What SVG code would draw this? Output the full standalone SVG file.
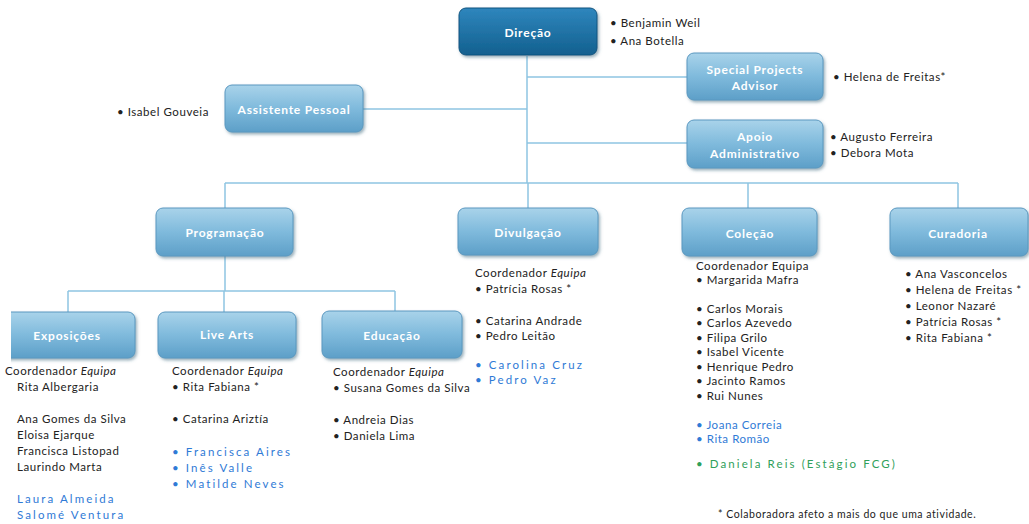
<svg xmlns="http://www.w3.org/2000/svg" width="1029" height="524" viewBox="0 0 1029 524">
<defs>
<linearGradient id="lb" x1="0" y1="0" x2="0" y2="1">
<stop offset="0" stop-color="#a9d3ea"/>
<stop offset="0.5" stop-color="#7fbadc"/>
<stop offset="1" stop-color="#5d9fc8"/>
</linearGradient>
<linearGradient id="db" x1="0" y1="0" x2="0" y2="1">
<stop offset="0" stop-color="#2f86bd"/>
<stop offset="1" stop-color="#12608f"/>
</linearGradient>
<filter id="sh" x="-10%" y="-20%" width="125%" height="150%">
<feDropShadow dx="1.5" dy="2" stdDeviation="1.5" flood-color="#4a6f86" flood-opacity="0.55"/>
</filter>
<clipPath id="cl"><rect x="11" y="0" width="1018" height="524"/></clipPath>
</defs>
<style>
.box{fill:url(#lb);stroke:#5a98c0;stroke-width:1;filter:url(#sh)}
.dbox{fill:url(#db);stroke:#0f5580;stroke-width:1;filter:url(#sh)}
.bt{font-family:Lato,"Liberation Sans",sans-serif;font-weight:bold;font-size:12px;fill:#ffffff;text-anchor:middle;letter-spacing:0.8px}
.t{font-family:Lato,"Liberation Sans",sans-serif;font-size:11.5px;fill:#222222;letter-spacing:0.55px}
.it{font-style:italic}
.bl{font-family:Lato,"Liberation Sans",sans-serif;font-size:11.5px;fill:#2f7ad6;letter-spacing:2.1px}
.gr{font-family:Lato,"Liberation Sans",sans-serif;font-size:11.5px;fill:#2fa05a;letter-spacing:2.1px}
.c{stroke:#8ec5e2;stroke-width:1.5;fill:none}
</style>
<g id="connectors">
<path class="c" d="M527 56V183M527 77H687M527 143H687M363 109H527M225 183H958M225 183V208M528 183V208M748 183V208M958 183V208M225 256V291M68 291H395M68 291V312M224 291V312M395 291V311"/>
</g>
<g id="direcao">
<rect class="dbox" x="459" y="8" width="138" height="47" rx="7"/>
<text class="bt" x="528" y="37">Direção</text>
<text class="t" x="610" y="27">•  Benjamin Weil</text>
<text class="t" x="610" y="45">•  Ana Botella</text>
</g>
<g id="special">
<rect class="box" x="687" y="53" width="136" height="47" rx="7"/>
<text class="bt" x="755" y="74">Special Projects</text>
<text class="bt" x="755" y="90">Advisor</text>
<text class="t" x="833" y="81">•  Helena de Freitas*</text>
</g>
<g id="apoio">
<rect class="box" x="687" y="120" width="136" height="48" rx="7"/>
<text class="bt" x="755" y="141">Apoio</text>
<text class="bt" x="755" y="158">Administrativo</text>
<text class="t" x="830" y="141">•  Augusto Ferreira</text>
<text class="t" x="830" y="157">•  Debora Mota</text>
</g>
<g id="assistente">
<rect class="box" x="225" y="85" width="138" height="47" rx="7"/>
<text class="bt" x="294" y="114">Assistente Pessoal</text>
<text class="t" x="117" y="116">•  Isabel Gouveia</text>
</g>
<g id="programacao">
<rect class="box" x="156" y="208" width="137" height="48" rx="7"/>
<text class="bt" x="225" y="237">Programação</text>
</g>
<g id="divulgacao">
<rect class="box" x="458" y="208" width="140" height="47" rx="7"/>
<text class="bt" x="528" y="237">Divulgação</text>
<text class="t" x="475" y="277">Coordenador <tspan class="it">Equipa</tspan></text>
<text class="t" x="475" y="293">•  Patrícia Rosas *</text>
<text class="t" x="475" y="325">•  Catarina Andrade</text>
<text class="t" x="475" y="340">•  Pedro Leitão</text>
<text class="bl" x="475" y="369">• Carolina Cruz</text>
<text class="bl" x="475" y="384">• Pedro Vaz</text>
</g>
<g id="colecao">
<rect class="box" x="682" y="208" width="135" height="48" rx="7"/>
<text class="bt" x="750" y="238">Coleção</text>
<text class="t" x="696" y="270">Coordenador Equipa</text>
<text class="t" x="696" y="284">•  Margarida Mafra</text>
<text class="t" x="696" y="313">•  Carlos Morais</text>
<text class="t" x="696" y="327">•  Carlos Azevedo</text>
<text class="t" x="696" y="342">•  Filipa Grilo</text>
<text class="t" x="696" y="356">•  Isabel Vicente</text>
<text class="t" x="696" y="371">•  Henrique Pedro</text>
<text class="t" x="696" y="385">•  Jacinto Ramos</text>
<text class="t" x="696" y="400">•  Rui Nunes</text>
<text class="t" x="696" y="429" style="fill:#2f7ad6">•  Joana Correia</text>
<text class="t" x="696" y="443" style="fill:#2f7ad6">•  Rita Romão</text>
<text class="gr" x="696" y="468">• Daniela Reis (Estágio FCG)</text>
</g>
<g id="curadoria">
<rect class="box" x="890" y="208" width="138" height="48" rx="7"/>
<text class="bt" x="958" y="238">Curadoria</text>
<text class="t" x="905" y="278">•  Ana Vasconcelos</text>
<text class="t" x="905" y="294">•  Helena de Freitas *</text>
<text class="t" x="905" y="310">•  Leonor Nazaré</text>
<text class="t" x="905" y="326">•  Patrícia Rosas *</text>
<text class="t" x="905" y="342">•  Rita Fabiana *</text>
</g>
<g id="exposicoes">
<rect class="box" x="-6" y="312" width="141" height="46" rx="7" clip-path="url(#cl)"/>
<text class="bt" x="67" y="340">Exposições</text>
<text class="t" x="5" y="375">Coordenador <tspan class="it">Equipa</tspan></text>
<text class="t" x="17" y="391">Rita Albergaria</text>
<text class="t" x="17" y="423">Ana Gomes da Silva</text>
<text class="t" x="17" y="439">Eloisa Ejarque</text>
<text class="t" x="17" y="455">Francisca Listopad</text>
<text class="t" x="17" y="471">Laurindo Marta</text>
<text class="bl" x="17" y="503">Laura Almeida</text>
<text class="bl" x="17" y="519">Salomé Ventura</text>
</g>
<g id="livearts">
<rect class="box" x="158" y="312" width="138" height="46" rx="7"/>
<text class="bt" x="227" y="339">Live Arts</text>
<text class="t" x="172" y="375">Coordenador <tspan class="it">Equipa</tspan></text>
<text class="t" x="172" y="391">•  Rita Fabiana *</text>
<text class="t" x="172" y="423">•  Catarina Ariztía</text>
<text class="bl" x="172" y="456">• Francisca Aires</text>
<text class="bl" x="172" y="472">• Inês Valle</text>
<text class="bl" x="172" y="488">• Matilde Neves</text>
</g>
<g id="educacao">
<rect class="box" x="322" y="311" width="140" height="47" rx="7"/>
<text class="bt" x="392" y="340">Educação</text>
<text class="t" x="333" y="376">Coordenador <tspan class="it">Equipa</tspan></text>
<text class="t" x="333" y="392">•  Susana Gomes da Silva</text>
<text class="t" x="333" y="424">•  Andreia Dias</text>
<text class="t" x="333" y="440">•  Daniela Lima</text>
</g>
<text class="t" x="718" y="518" style="font-size:10.5px;letter-spacing:0.55px">* Colaboradora  afeto a mais do que uma atividade.</text>
</svg>
